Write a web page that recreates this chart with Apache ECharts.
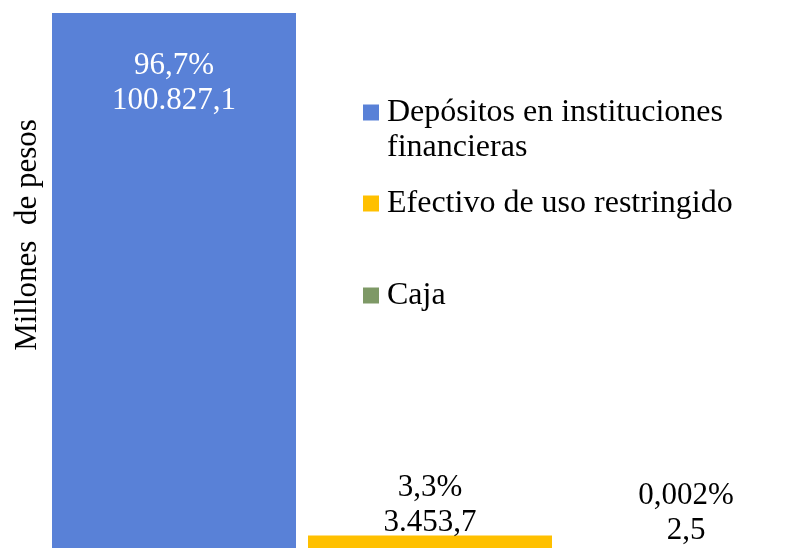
<!DOCTYPE html>
<html>
<head>
<meta charset="utf-8">
<script src="https://cdn.jsdelivr.net/npm/echarts@6/dist/echarts.min.js"></script>
<style>
  html, body { margin: 0; padding: 0; background: #fff; }
  #chart { width: 794px; height: 548px; }
</style>
</head>
<body>
<div id="chart"></div>
<script>
// datos del gráfico
const categories = ['Depósitos en instituciones financieras', 'Efectivo de uso restringido', 'Caja'];
const values = [100827.1, 3453.7, 2.5];
const valueLabels = ['100.827,1', '3.453,7', '2,5'];
const pctLabels = ['96,7%', '3,3%', '0,002%'];
const colors = ['#5981D7', '#FFC000', '#7E9966'];
const legendLines = [['Depósitos en instituciones', 'financieras'], ['Efectivo de uso restringido'], ['Caja']];
const axisName = 'Millones  de pesos';

const FONT = '"Liberation Serif", "Times New Roman", serif';
const FS = 31;
const LH = 35;

const chart = echarts.init(document.getElementById('chart'));

// una serie por categoría para que cada una tenga su entrada de leyenda
const labelDist = [35, -5, 6];
const series = categories.map((c, i) => ({
  name: c,
  type: 'bar',
  stack: 'total',
  barWidth: 244,
  data: categories.map((_, j) => (j === i ? values[i] : null)),
  itemStyle: { color: colors[i] },
  label: {
    show: true,
    position: i === 0 ? 'insideTop' : 'top',
    distance: labelDist[i],
    formatter: () => pctLabels[i] + '\n' + valueLabels[i],
    color: i === 0 ? '#fff' : '#000',
    fontFamily: FONT,
    fontSize: FS,
    lineHeight: LH
  }
}));

const txt = { fontFamily: FONT, fontSize: 32, lineHeight: LH, color: '#000' };
const txtA = Object.assign({}, txt, { padding: [0, 0, 0, 3] });

// la primera entrada tiene dos líneas y el cuadro va con la primera:
// una línea vacía arriba deja el bloque centrado en esa primera línea
const legendTops = [55, 181, 273];
const legends = categories.map((c, i) => ({
  data: [c],
  orient: 'vertical',
  left: 358,
  top: legendTops[i],
  icon: 'rect',
  itemWidth: 16,
  itemHeight: 16,
  selectedMode: false,
  formatter: () => {
    const lines = legendLines[i].map(l => '{a|' + l + '}');
    if (lines.length > 1) lines.unshift('{e| }');
    return lines.join('\n');
  },
  textStyle: Object.assign({}, txt, {
    rich: { a: txtA, e: txt }
  })
}));

chart.setOption({
  animation: false,
  grid: { left: 46, width: 768, top: 13, height: 541, outerBoundsMode: 'none' },
  xAxis: {
    type: 'category',
    data: categories,
    show: false
  },
  yAxis: {
    type: 'value',
    min: 0,
    max: 100827.1,
    show: false
  },
  legend: legends,
  graphic: [{
    type: 'text',
    x: 28,
    y: 235,
    rotation: Math.PI / 2,
    style: {
      text: axisName,
      fontFamily: FONT,
      fontSize: FS,
      fill: '#000',
      align: 'center',
      verticalAlign: 'middle'
    }
  }],
  series: series
});
</script>
</body>
</html>
